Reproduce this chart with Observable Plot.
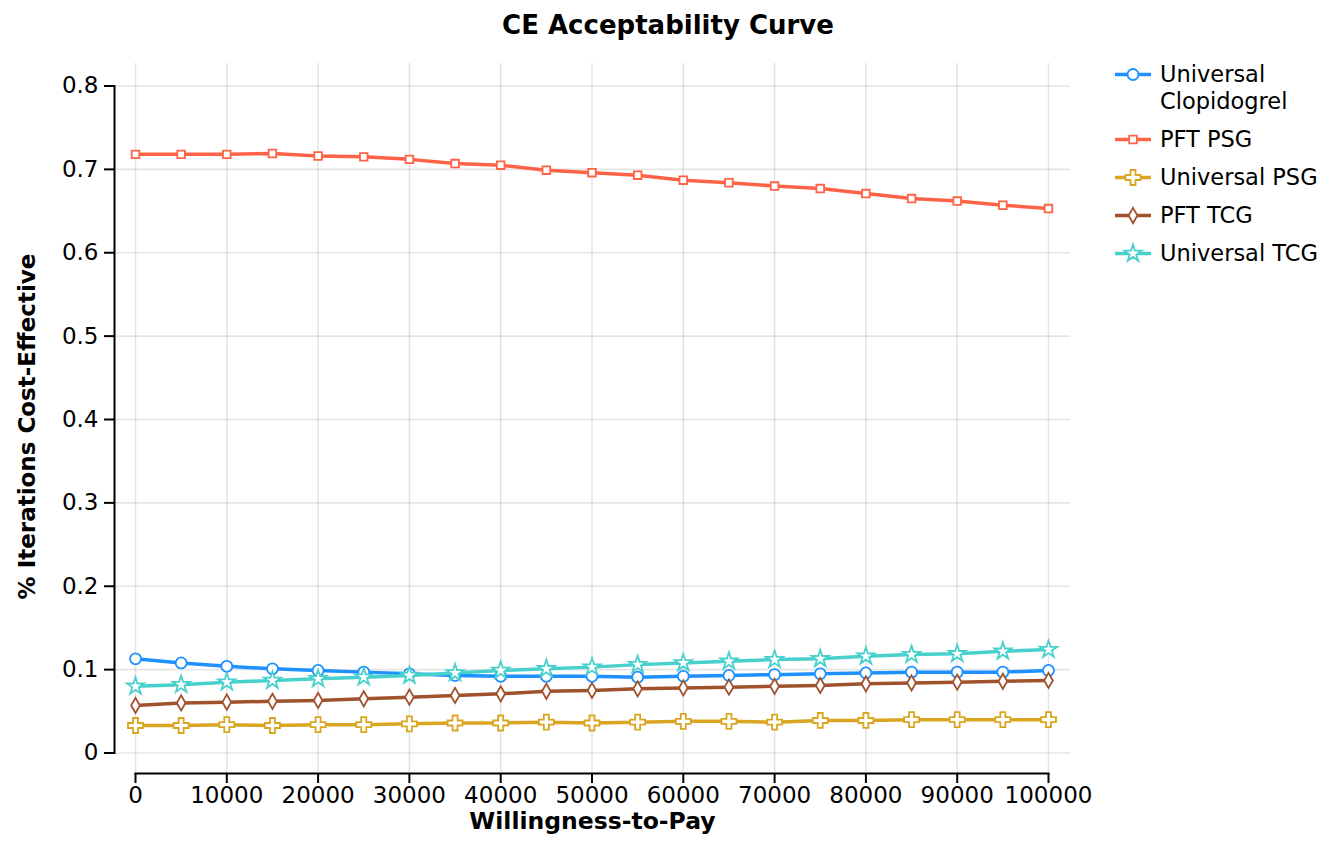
<!DOCTYPE html>
<html>
<head>
<meta charset="utf-8">
<script src="https://cdn.jsdelivr.net/npm/d3@7"></script>
<script src="https://cdn.jsdelivr.net/npm/@observablehq/plot@0.6"></script>
<style>
  html, body { margin: 0; padding: 0; background: #fff; }
  body { font-family: "DejaVu Sans", sans-serif; }
  #wrap { position: relative; width: 1330px; height: 843px; overflow: hidden; }
  #title { height: 50px; line-height: 50px; text-align: center; font-weight: bold; font-size: 26px; color: #000; padding-left: 6px; box-sizing: border-box; }
  #legend { position: absolute; left: 1115px; top: 61px; font-size: 22.5px; color: #000; }
  .row { display: flex; align-items: flex-start; margin-bottom: 11px; }
  .row svg { flex: none; margin-right: 9px; }
  .row span { width: 170px; line-height: 27px; }
</style>
</head>
<body>
<div id="wrap">
  <div id="title">CE Acceptability Curve</div>
  <div id="chart"></div>
  <div id="legend"></div>
</div>
<script>
const wtp = [0, 5000, 10000, 15000, 20000, 25000, 30000, 35000, 40000, 45000, 50000,
             55000, 60000, 65000, 70000, 75000, 80000, 85000, 90000, 95000, 100000];

const seriesNames = ["Universal Clopidogrel", "PFT PSG", "Universal PSG", "PFT TCG", "Universal TCG"];

const universalClopidogrel = [0.113, 0.108, 0.104, 0.101, 0.099, 0.097, 0.095, 0.093, 0.092, 0.092, 0.092,
                              0.091, 0.092, 0.093, 0.094, 0.095, 0.096, 0.097, 0.097, 0.097, 0.099];
const pftPSG = [0.718, 0.718, 0.718, 0.719, 0.716, 0.715, 0.712, 0.707, 0.705, 0.699, 0.696,
                0.693, 0.687, 0.684, 0.680, 0.677, 0.671, 0.665, 0.662, 0.657, 0.653];
const universalPSG = [0.033, 0.033, 0.034, 0.033, 0.034, 0.034, 0.035, 0.036, 0.036, 0.037, 0.036,
                      0.037, 0.038, 0.038, 0.037, 0.039, 0.039, 0.040, 0.040, 0.040, 0.040];
const pftTCG = [0.057, 0.060, 0.061, 0.062, 0.063, 0.065, 0.067, 0.069, 0.071, 0.074, 0.075,
                0.077, 0.078, 0.079, 0.080, 0.081, 0.083, 0.084, 0.085, 0.086, 0.087];
const universalTCG = [0.080, 0.082, 0.085, 0.087, 0.089, 0.091, 0.093, 0.096, 0.099, 0.101, 0.103,
                      0.106, 0.108, 0.110, 0.112, 0.113, 0.116, 0.118, 0.119, 0.122, 0.124];

const seriesValues = [universalClopidogrel, pftPSG, universalPSG, pftTCG, universalTCG];
const seriesColors = ["#1e90ff", "#ff6347", "#daa520", "#a0522d", "#48d1cc"];
const seriesSymbols = ["circle", "square", "cross", "diamond", "star"];
const d3Symbols = [d3.symbolCircle, d3.symbolSquare, d3.symbolCross, d3.symbolDiamond, d3.symbolStar];
const symbolRadii = [5.5, 4.3, 6.3, 4.6, 5.4];

const xTicks = [0, 10000, 20000, 30000, 40000, 50000, 60000, 70000, 80000, 90000, 100000];
const yTicks = [0, 0.1, 0.2, 0.3, 0.4, 0.5, 0.6, 0.7, 0.8];

const xLabel = "Willingness-to-Pay";
const yLabel = "% Iterations Cost-Effective";

const seriesMarks = seriesNames.flatMap((name, i) => {
  const rows = wtp.map((x, j) => ({x, y: seriesValues[i][j], name}));
  return [
    Plot.line(rows, {x: "x", y: "y", stroke: seriesColors[i], strokeWidth: 3.5}),
    Plot.dot(rows, {x: "x", y: "y", symbol: () => seriesSymbols[i], r: symbolRadii[i],
                    stroke: seriesColors[i], fill: "white", strokeWidth: 1.8})
  ];
});

const chart = Plot.plot({
  width: 1330,
  height: 793,
  marginLeft: 114,
  marginRight: 260,
  marginTop: 13,
  marginBottom: 70,
  style: {fontFamily: "DejaVu Sans, sans-serif", fontSize: "23px", color: "#000", background: "transparent"},
  x: {domain: [0, 100000], insetLeft: 21, insetRight: 22},
  y: {domain: [0, 0.8], insetTop: 22.5, insetBottom: 20.5},
  symbol: {type: "identity"},
  marks: [
    Plot.gridX(xTicks, {stroke: "#000", strokeOpacity: 0.1, strokeWidth: 1.6}),
    Plot.gridY(yTicks, {stroke: "#000", strokeOpacity: 0.1, strokeWidth: 1.6}),
    Plot.frame({anchor: "left", insetTop: 22.5, insetBottom: 20.5, strokeWidth: 2}),
    Plot.frame({anchor: "bottom", insetLeft: 21, insetRight: 22, strokeWidth: 2}),
    Plot.axisY(yTicks, {tickSize: 10, tickPadding: 6, strokeWidth: 2, label: null,
                        tickFormat: d => d === 0 ? "0" : d3.format(".1f")(d)}),
    Plot.axisX(xTicks, {tickSize: 10, tickPadding: 3, strokeWidth: 2, label: null,
                        tickFormat: d3.format("d")}),
    ...seriesMarks,
    Plot.text([xLabel], {text: d => d, frameAnchor: "bottom", dy: 55, fontWeight: "bold", fontSize: 23.5}),
    Plot.text([yLabel], {text: d => d, frameAnchor: "left", textAnchor: "middle", dx: -87, dy: 8,
                         rotate: -90, fontWeight: "bold", fontSize: 23})
  ]
});
document.getElementById("chart").appendChild(chart);

// legend
const legend = d3.select("#legend");
seriesNames.forEach((name, i) => {
  const row = legend.append("div").attr("class", "row");
  const svg = row.append("svg").attr("width", 36).attr("height", 27);
  svg.append("line").attr("x1", 0).attr("x2", 36).attr("y1", 13.5).attr("y2", 13.5)
    .attr("stroke", seriesColors[i]).attr("stroke-width", 3.5);
  const r = symbolRadii[i];
  svg.append("path").attr("transform", "translate(18,13.5)")
    .attr("d", d3.symbol(d3Symbols[i], Math.PI * r * r)())
    .attr("fill", "white").attr("stroke", seriesColors[i]).attr("stroke-width", 1.8);
  row.append("span").text(name);
});
</script>
</body>
</html>
